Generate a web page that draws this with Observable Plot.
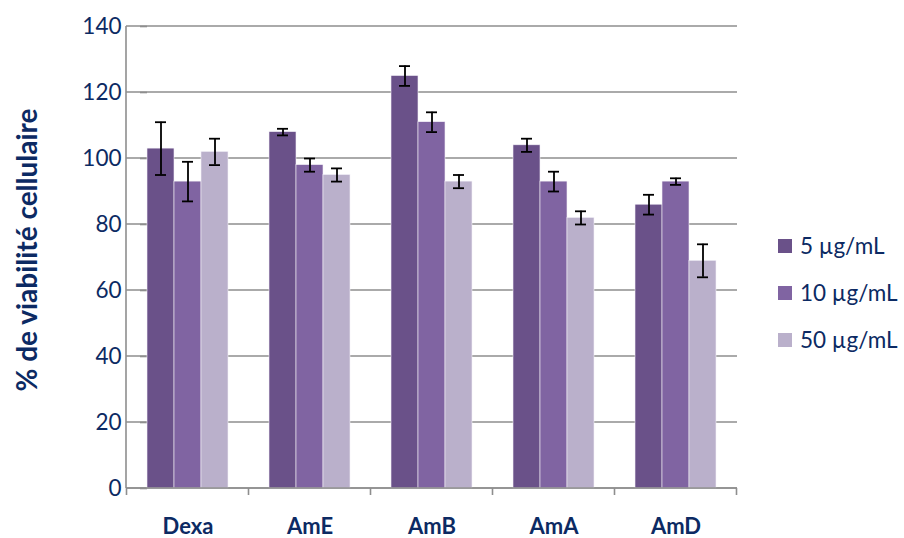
<!DOCTYPE html>
<html>
<head>
<meta charset="utf-8">
<script src="https://cdn.jsdelivr.net/npm/d3@7"></script>
<script src="https://cdn.jsdelivr.net/npm/@observablehq/plot@0.6"></script>
<style>
  body { margin: 0; background: #fff; }
  #wrap { position: relative; width: 904px; height: 538px; font-family: Lato, "Open Sans", sans-serif; color: #0c2a63; }
  #legend { position: absolute; left: 778px; top: 222px; }
  .item { display: flex; align-items: center; height: 47px; font-size: 22.5px; }
  .sw { width: 14px; height: 14px; margin-right: 8px; }
  #ytitle { position: absolute; left: 26px; top: 250px; transform: translate(-50%, -50%) rotate(-90deg); white-space: nowrap; font-weight: bold; font-size: 28px; }
</style>
</head>
<body>
<div id="wrap"><div id="legend"></div></div>
<script>
const categories = ["Dexa", "AmE", "AmB", "AmA", "AmD"];
const doses = ["5 µg/mL", "10 µg/mL", "50 µg/mL"];
const values5 = [103, 108, 125, 104, 86];
const values10 = [93, 98, 111, 93, 93];
const values50 = [102, 95, 93, 82, 69];
const err5 = [8, 1, 3, 2, 3];
const err10 = [6, 2, 3, 3, 1];
const err50 = [4, 2, 2, 2, 5];
const yTicks = [0, 20, 40, 60, 80, 100, 120, 140];
const colors = ["#6a5189", "#8064a2", "#bab0cb"];
const yTitle = "% de viabilité cellulaire";

const series = [values5, values10, values50];
const errs = [err5, err10, err50];
const data = [];
categories.forEach((c, i) => doses.forEach((d, j) => {
  data.push({cat: c, dose: d, value: series[j][i], lo: series[j][i] - errs[j][i], hi: series[j][i] + errs[j][i]});
}));

const textColor = "#0c2a63";
const gridColor = "#8e8e8e";

const plot = Plot.plot({
  width: 904, height: 538,
  marginLeft: 126, marginRight: 167, marginTop: 26, marginBottom: 50,
  style: {fontFamily: "Lato, 'Open Sans', sans-serif", fontSize: "22px", color: textColor, background: "transparent"},
  fx: {domain: categories, paddingInner: 0.336, paddingOuter: 0.168, label: null, axis: null},
  x: {domain: doses, padding: 0, axis: null},
  y: {domain: [0, 140], axis: null},
  color: {domain: doses, range: colors},
  marks: [
    Plot.axisY({ticks: yTicks, tickSize: 7, tickPadding: 19, label: null, stroke: gridColor, strokeWidth: 1.6, fill: textColor, fontSize: 22.5}),
    Plot.axisFx({anchor: "bottom", tickSize: 0, tickPadding: 30, label: null, fontWeight: "bold", fontSize: 22, fill: textColor}),
    Plot.barY(data, {fx: "cat", x: "dose", y: "value", fill: "dose", stroke: "#f4f2f8", strokeWidth: 0.6}),
    Plot.ruleX(data, {fx: "cat", x: "dose", y1: "lo", y2: "hi", stroke: "#000", strokeWidth: 1.8}),
    Plot.tickY(data, {fx: "cat", x: "dose", y: "lo", stroke: "#000", strokeWidth: 1.8, insetLeft: 8, insetRight: 8}),
    Plot.tickY(data, {fx: "cat", x: "dose", y: "hi", stroke: "#000", strokeWidth: 1.8, insetLeft: 8, insetRight: 8})
  ]
});

const wrap = document.getElementById("wrap");
wrap.insertBefore(plot, wrap.firstChild);
plot.style.position = "absolute"; plot.style.left = "0"; plot.style.top = "0";

// Gridlines, axis lines and category boundary ticks using the library's scales
const ys = plot.scale("y");
const fxs = plot.scale("fx");
const svg = d3.select(plot);
const y0 = ys.apply(0), yTop = ys.apply(140);
const left = fxs.range[0], right = fxs.range[1];
const grid = svg.insert("g", ":first-child").attr("stroke", gridColor).attr("stroke-width", 1.6);
yTicks.forEach(t => grid.append("line").attr("x1", left).attr("x2", right).attr("y1", ys.apply(t)).attr("y2", ys.apply(t)));
const g = svg.append("g").attr("stroke", gridColor).attr("stroke-width", 1.6);
g.append("line").attr("x1", left).attr("x2", left).attr("y1", yTop).attr("y2", y0);
g.append("line").attr("x1", left).attr("x2", right).attr("y1", y0).attr("y2", y0);
const off = (fxs.step - fxs.bandwidth) / 2;
const bounds = categories.map(c => fxs.apply(c) - off).concat([fxs.apply(categories[categories.length - 1]) + fxs.bandwidth + off]);
bounds.forEach(b => g.append("line").attr("x1", b).attr("x2", b).attr("y1", y0).attr("y2", y0 + 7));

// Legend
const leg = document.getElementById("legend");
doses.forEach((d, i) => {
  const it = document.createElement("div"); it.className = "item";
  const sw = document.createElement("div"); sw.className = "sw"; sw.style.background = colors[i];
  const t = document.createElement("span"); t.textContent = d;
  it.appendChild(sw); it.appendChild(t); leg.appendChild(it);
});
const yt = document.createElement("div"); yt.id = "ytitle"; yt.textContent = yTitle;
wrap.appendChild(yt);
</script>
</body>
</html>
